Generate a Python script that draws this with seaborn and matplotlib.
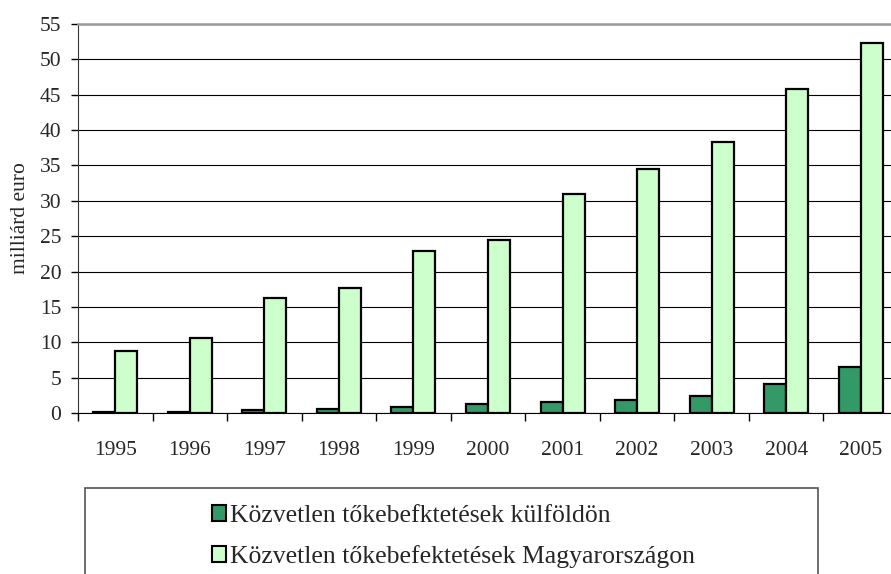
import numpy as np
import pandas as pd
import matplotlib.pyplot as plt
import seaborn as sns
from matplotlib.patches import Patch, Rectangle

# data (milliard euro)
years = ['1995', '1996', '1997', '1998', '1999', '2000', '2001', '2002', '2003', '2004', '2005']
kulfoldon = [0.2, 0.2, 0.4, 0.55, 0.8, 1.3, 1.6, 1.85, 2.45, 4.05, 6.55]
magyarorszagon = [8.8, 10.6, 16.3, 17.7, 22.9, 24.5, 31.0, 34.5, 38.3, 45.8, 52.3]
series = ['Közvetlen tőkebefktetések külföldön', 'Közvetlen tőkebefektetések Magyarországon']
colors = ['#339966', '#CCFFCC']

df = pd.DataFrame({
    'ev': years * 2,
    'ertek': kulfoldon + magyarorszagon,
    'sorozat': [series[0]] * len(years) + [series[1]] * len(years),
})

sns.set_style('white')
plt.rcParams['font.family'] = ['Liberation Serif', 'DejaVu Serif']

fig = plt.figure(figsize=(8.91, 5.74), dpi=100)
ax = fig.add_axes([78 / 891, 1 - 413 / 574, 820 / 891, 389 / 574])

sns.barplot(data=df, x='ev', y='ertek', hue='sorozat', palette=colors,
            width=0.59, edgecolor='black', linewidth=1.6, saturation=1,
            legend=False, ax=ax)

ax.set_ylim(0, 55)
ax.set_xlim(-0.5, len(years) - 0.5)
ax.set_yticks(np.arange(0, 56, 5))
ax.yaxis.grid(True, color='black', linewidth=0.8)
ax.set_axisbelow(True)

# category ticks between the groups
ax.set_xticks(np.arange(-0.5, len(years)), minor=True)
ax.tick_params(axis='x', which='minor', length=6, width=1, color='black', direction='out')
ax.tick_params(axis='x', which='major', length=0, pad=20, labelsize=15.5)
ax.tick_params(axis='y', length=5, width=1, color='black', direction='out', pad=7, labelsize=15.5)
ax.tick_params(left=True, bottom=True, which='both')

ax.set_xlabel('')
ax.set_ylabel('milliárd euro', fontsize=15.5, labelpad=7)

ax.spines['top'].set_color('#999999')
ax.spines['top'].set_linewidth(1.8)
ax.spines['left'].set_color('#333333')
ax.spines['bottom'].set_color('black')
ax.spines['right'].set_visible(False)

# legend box, cut off at the bottom of the picture
fig.patches.append(Rectangle((85 / 891, -0.1), 733 / 891, 0.1 + 1 - 488 / 574,
                             transform=fig.transFigure, fill=False,
                             edgecolor='#555555', linewidth=1.2))
handles = [Patch(facecolor=c, edgecolor='black', linewidth=1.5) for c in colors]
fig.legend(handles, series, loc='upper left', bbox_to_anchor=(212 / 891, 1 - 505 / 574),
           frameon=False, fontsize=18.5, handlelength=0.55, handleheight=0.55,
           handletextpad=0.15, labelspacing=0.7, borderpad=0, borderaxespad=0)

fig.savefig('out.png', dpi=100)
